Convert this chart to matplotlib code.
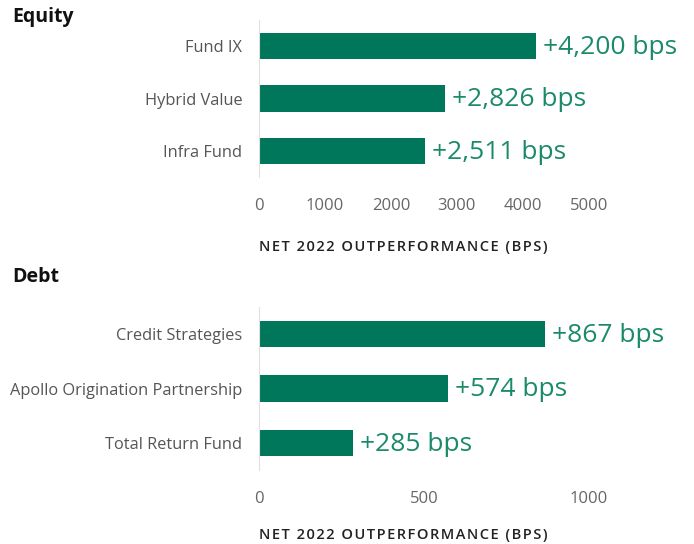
import matplotlib.pyplot as plt

plt.rcParams['font.family'] = ['Open Sans', 'DejaVu Sans']

# Adatok
equity_names = ['Fund IX', 'Hybrid Value', 'Infra Fund']
equity_bps = [4200, 2826, 2511]
equity_ticks = [0, 1000, 2000, 3000, 4000, 5000]

debt_names = ['Credit Strategies', 'Apollo Origination Partnership', 'Total Return Fund']
debt_bps = [867, 574, 285]
debt_ticks = [0, 500, 1000]

BAR = '#00775a'
LABEL = '#1b8a6b'
# ritkított betűköz vékony szóközökkel
XLABEL = '\u200a'.join('NET 2022 OUTPERFORMANCE (BPS)')


def draw_panel(ax, names, values, ticks, height, labelpad):
    y = range(len(names))
    ax.barh(y, values, height=height, color=BAR)
    ax.set_ylim(len(names) - 0.5, -0.5)
    ax.set_xlim(ticks[0], ticks[-1])
    ax.set_yticks(list(y))
    ax.set_yticklabels(names, fontsize=11.8, color='#555555')
    ax.set_xticks(ticks)
    ax.set_xticklabels([str(t) for t in ticks], fontsize=12, color='#666666')
    ax.tick_params(axis='both', length=0)
    ax.tick_params(axis='x', pad=15)
    ax.tick_params(axis='y', pad=12)
    for side in ['top', 'right', 'bottom']:
        ax.spines[side].set_visible(False)
    ax.spines['left'].set_color('#e0e0e0')
    ax.set_xlabel(XLABEL, loc='left', fontsize=10.5, fontweight='semibold',
                  color='#222222', labelpad=labelpad)
    # Értékcímkék a sávok végén
    for i, v in enumerate(values):
        ax.annotate(f'+{v:,} bps', (v, i), xytext=(5, -1), textcoords='offset points',
                    va='center', ha='left', fontsize=19, color=LABEL,
                    annotation_clip=False)


fig = plt.figure(figsize=(6.94, 5.44), dpi=100)
ax1 = fig.add_axes([0.373, 0.6746, 0.4755, 0.2886])
ax2 = fig.add_axes([0.373, 0.136, 0.4755, 0.2996])

draw_panel(ax1, equity_names, equity_bps, equity_ticks, 0.5, 19)
draw_panel(ax2, debt_names, debt_bps, debt_ticks, 0.48, 15)

fig.text(12 / 694, 1 - 17 / 544, 'Equity', fontsize=14, fontweight='bold',
         va='center', ha='left', color='#111111')
fig.text(12 / 694, 1 - 277 / 544, 'Debt', fontsize=14, fontweight='bold',
         va='center', ha='left', color='#111111')

fig.savefig('out.png', dpi=100, facecolor='white')
plt.close()
